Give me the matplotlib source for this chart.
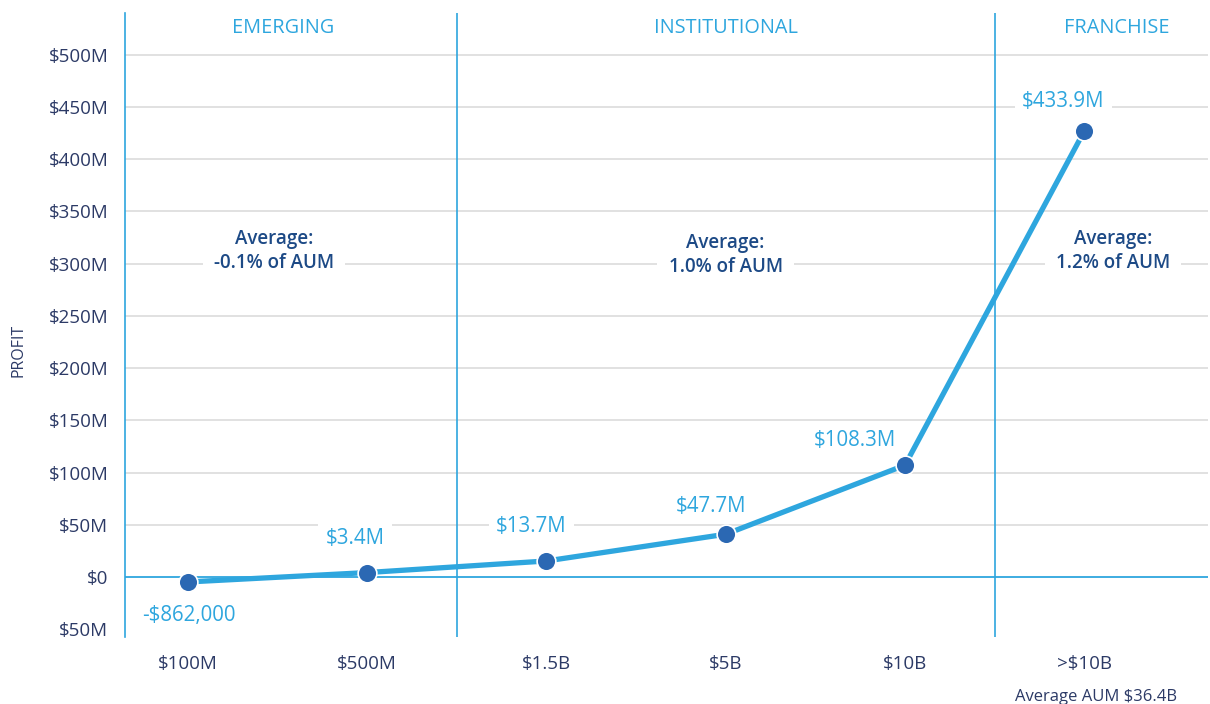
import matplotlib
matplotlib.use("Agg")
import matplotlib.pyplot as plt

categories = ["$100M", "$500M", "$1.5B", "$5B", "$10B", ">$10B"]
# marker heights read from the plotted points (in $M)
profit_m = [-4.8, 4.2, 15.3, 40.9, 107.0, 427.0]
value_labels = ["-$862,000", "$3.4M", "$13.7M", "$47.7M", "$108.3M", "$433.9M"]
yticks = [-50, 0, 50, 100, 150, 200, 250, 300, 350, 400, 450, 500]
ytick_labels = ["$50M", "$0", "$50M", "$100M", "$150M", "$200M", "$250M",
                "$300M", "$350M", "$400M", "$450M", "$500M"]
segments = ["EMERGING", "INSTITUTIONAL", "FRANCHISE"]
segment_x = [0.53, 3.0, 5.18]
averages = ["Average:\n-0.1% of AUM", "Average:\n1.0% of AUM", "Average:\n1.2% of AUM"]
average_x = [0.48, 3.0, 5.16]
average_y = [312, 308, 312]
dividers = [1.5, 4.5]

plt.rcParams['font.family'] = ['Open Sans', 'DejaVu Sans']

LINE = "#2ea6de"
MARK = "#2b68b3"
LBL = "#2ea6de"
NAVY = "#2c3a66"
DARK = "#1d4a86"
GRID = "#dedede"

fig = plt.figure(figsize=(12.1, 7.04), dpi=100)
ax = fig.add_axes([125/1210, 1-637/704, (1208-125)/1210, (637-13)/704])
x = list(range(len(categories)))
ax.set_xlim(-0.35, 5.69)
ax.set_ylim(-57.5, 540)

for t in yticks:
    if t > 0:
        ax.axhline(t, color=GRID, lw=1.3, zorder=1)
ax.axhline(0, color=LINE, lw=1.3, zorder=1)
for d in dividers:
    ax.axvline(d, color=LINE, lw=1.2, zorder=1)

ax.plot(x, profit_m, color=LINE, lw=3.8, zorder=3, solid_capstyle='round')
ax.plot(x, profit_m, 'o', color=MARK, ms=13.5, mec='white', mew=1.2, zorder=4)

offsets = [(0.5, -24.5), (-8.6, 24.5), (-10.8, 24.5), (-10.8, 20), (-36, 18), (-15, 21)]
for xi, yi, lab, (dx, dy) in zip(x, profit_m, value_labels, offsets):
    ax.annotate(lab, (xi, yi), xytext=(dx, dy), textcoords='offset points',
                ha='center', va='center', color=LBL, fontsize=14.8, zorder=2,
                bbox=dict(boxstyle='square,pad=0.35', fc='white', ec='none'))

for s, sx in zip(segments, segment_x):
    ax.text(sx, 526, s, ha='center', va='center', color=LBL, fontsize=14.3)

for a, axx, ay in zip(averages, average_x, average_y):
    ax.text(axx, ay, a, ha='center', va='center', color=DARK, fontsize=13.5,
            fontweight='semibold', linespacing=1.25, zorder=2,
            bbox=dict(boxstyle='square,pad=0.6', fc='white', ec='none'))

ax.set_xticks(x)
ax.set_xticklabels(categories, color=NAVY, fontsize=13.5)
ax.set_yticks(yticks)
ax.set_yticklabels(ytick_labels, color=NAVY, fontsize=13.5)
ax.tick_params(axis='both', length=0)
ax.tick_params(axis='x', pad=13)
ax.tick_params(axis='y', pad=12)
for sp in ['top', 'right', 'bottom']:
    ax.spines[sp].set_visible(False)
ax.spines['left'].set_color(LINE)
ax.spines['left'].set_linewidth(1.2)

fig.text(18/1210, 1-350/704, "PROFIT", rotation=90, ha='center', va='center',
         color=NAVY, fontsize=11.5)
fig.text(1096/1210, 1-697/704, "Average AUM $36.4B", ha='center', va='center',
         color=NAVY, fontsize=12)

fig.savefig("out.png", dpi=100)
